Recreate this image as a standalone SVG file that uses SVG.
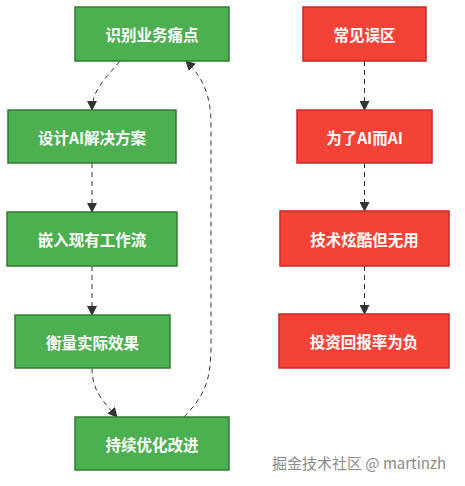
<svg xmlns="http://www.w3.org/2000/svg" width="465" height="486" viewBox="0 0 465 486">
<style>
.g{fill:#4CAF50;stroke:#2E7D32;stroke-width:1.5}
.r{fill:#F44336;stroke:#C62828;stroke-width:1.5}
.t{fill:#fff;font-family:"Noto Sans CJK SC","Noto Sans",sans-serif;font-size:15.5px;font-weight:bold;text-anchor:middle;dominant-baseline:central}
.e{fill:none;stroke:#333;stroke-width:1;stroke-dasharray:5,4;marker-end:url(#a)}
.w{fill:#8a8a8a;font-family:"Noto Sans CJK SC","Liberation Sans",sans-serif;font-size:15px}
</style>
<defs>
<marker id="a" markerUnits="userSpaceOnUse" markerWidth="10" markerHeight="10" viewBox="0 0 10 10" refX="9" refY="5" orient="auto">
<path d="M0,0 L10,5 L0,10 z" fill="#333"/>
</marker>
</defs>
<rect width="465" height="486" fill="#fff"/>
<g id="edges">
<path class="e" d="M120,61 C106,78 92,90 92,110"/>
<path class="e" d="M92,163 L92,212"/>
<path class="e" d="M92,266 L92,315"/>
<path class="e" d="M92,368 C92,392 104,402 117,417"/>
<path class="e" d="M184,417 C204,396 211,382 211,345 L211,125 C211,92 201,76 186,61"/>
<path class="e" d="M364.5,61 L364.5,110"/>
<path class="e" d="M364.5,163 L364.5,211"/>
<path class="e" d="M364.5,266 L364.5,314"/>
</g>
<g id="n1"><rect class="g" x="75" y="7" width="154" height="54"/><text class="t" x="152" y="34">识别业务痛点</text></g>
<g id="n2"><rect class="g" x="8" y="110" width="168" height="53"/><text class="t" x="92" y="136.5">设计AI解决方案</text></g>
<g id="n3"><rect class="g" x="7" y="212" width="170" height="54"/><text class="t" x="92" y="239">嵌入现有工作流</text></g>
<g id="n4"><rect class="g" x="15" y="315" width="155" height="53"/><text class="t" x="92.5" y="341.5">衡量实际效果</text></g>
<g id="n5"><rect class="g" x="75" y="417" width="154" height="53"/><text class="t" x="152" y="443.5">持续优化改进</text></g>
<g id="m1"><rect class="r" x="303" y="7" width="123" height="54"/><text class="t" x="364.5" y="34">常见误区</text></g>
<g id="m2"><rect class="r" x="297" y="110" width="135" height="53"/><text class="t" x="364.5" y="136.5">为了AI而AI</text></g>
<g id="m3"><rect class="r" x="280" y="211" width="169" height="55"/><text class="t" x="364.5" y="238.5">技术炫酷但无用</text></g>
<g id="m4"><rect class="r" x="279" y="314" width="170" height="54"/><text class="t" x="364" y="341">投资回报率为负</text></g>
<text class="w" x="272" y="469">掘金技术社区 @ martinzh</text>
</svg>
